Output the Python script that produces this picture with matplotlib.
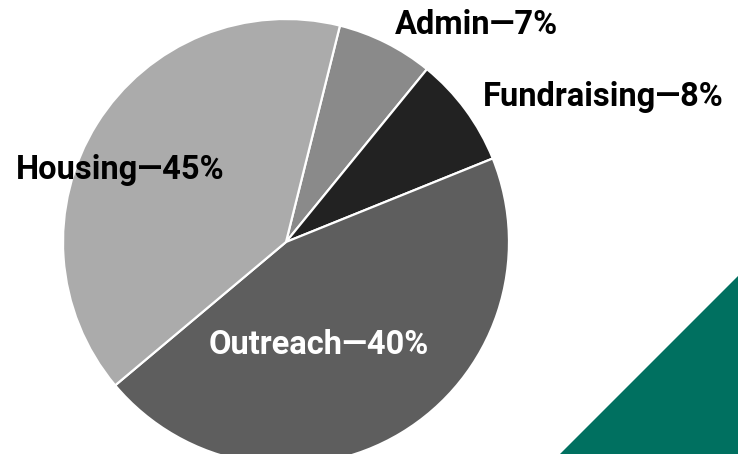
import matplotlib.pyplot as plt
from matplotlib.patches import Polygon

# slice sizes as drawn in the picture (clockwise from the Admin/Housing edge)
slices = ["Admin", "Fundraising", "Outreach", "Housing"]
slice_sizes = [7, 8, 45, 40]
slice_colors = ["#8a8a8a", "#222222", "#5e5e5e", "#ababab"]

# label texts as printed on the chart
label_texts = ["Admin\u20147%", "Fundraising\u20148%", "Outreach\u201440%", "Housing\u201445%"]

W, H = 738, 454
fig = plt.figure(figsize=(W / 100, H / 100), dpi=100)
ax = fig.add_axes([0, 0, 1, 1])

# green corner triangle
ax.add_patch(Polygon([(560, 0), (W, 0), (W, H - 276)], closed=True,
                     facecolor="#007060", edgecolor="none", zorder=0))

ax.pie(slice_sizes, colors=slice_colors, startangle=76, counterclock=False,
       center=(286, H - 242), radius=223, frame=True,
       wedgeprops=dict(edgecolor="white", linewidth=1.6))
ax.set_xlim(0, W)
ax.set_ylim(0, H)
ax.set_aspect("equal")
ax.axis("off")

font = dict(family="Roboto", fontweight="bold", fontsize=23.5)
# label positions (left x, centre y in pixels from the top)
pos = {"Admin": (395, 25), "Fundraising": (483, 97), "Outreach": (209, 345), "Housing": (16, 170)}
for name, txt in zip(slices, label_texts):
    x, y = pos[name]
    col = "white" if name == "Outreach" else "black"
    ax.text(x, H - y, txt, ha="left", va="center", color=col, **font)

fig.savefig("out.png", dpi=100)
